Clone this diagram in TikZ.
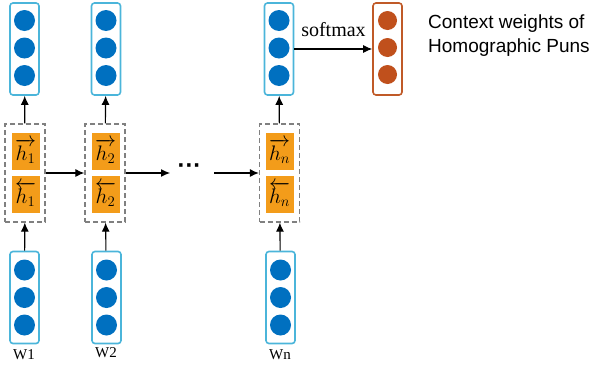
\documentclass[tikz,border=0pt]{standalone}
\usepackage{fontspec}
\usepackage{fix-cm}
\newfontfamily\arialfont{Liberation Sans}
\newfontfamily\timesfont{Liberation Serif}
\usetikzlibrary{arrows.meta}
\definecolor{cellblue}{HTML}{0070C0}
\definecolor{boxcyan}{HTML}{4BB5DA}
\definecolor{hidorange}{HTML}{F39C1A}
\definecolor{outbrown}{HTML}{C0501C}
\definecolor{outedge}{HTML}{C05A28}
\tikzset{
  vecbox/.style={draw=boxcyan, line width=1.6pt, rounded corners=3pt, minimum width=29pt, minimum height=92pt, inner sep=0pt},
  outbox/.style={vecbox, draw=outedge},
  unit/.style={circle, fill=cellblue, minimum size=21pt, inner sep=0pt},
  outunit/.style={circle, fill=outbrown, minimum size=19pt, inner sep=0pt},
  hidbox/.style={draw=gray, dash pattern=on 5pt off 3pt, line width=1.3pt, minimum width=40pt, minimum height=98pt, inner sep=0pt},
  hcell/.style={fill=hidorange, minimum width=28pt, minimum height=37pt, inner sep=0pt, font=\fontsize{21}{21}\selectfont},
  conn/.style={-{Latex[length=9pt,width=8pt]}, line width=1.1pt},
  word/.style={font=\timesfont\fontsize{15}{15}\selectfont}
}
\begin{document}
\begin{tikzpicture}[x=1pt, y=-1pt]
\useasboundingbox (0,0) rectangle (599,367);
% output layer
\node[vecbox] (top1) at (24.5,49){};
\node[vecbox] (top2) at (106,49){};
\node[vecbox] (topn) at (279,49){};
\node[unit] (t1a) at (24.5,20.5){};
\node[unit] (t1b) at (24.5,48){};
\node[unit] (t1c) at (24.5,75.5){};
\node[unit] (t2a) at (106,20.5){};
\node[unit] (t2b) at (106,48){};
\node[unit] (t2c) at (106,75.5){};
\node[unit] (tna) at (279,20.5){};
\node[unit] (tnb) at (279,48){};
\node[unit] (tnc) at (279,75.5){};
\node[outbox] (out) at (387.5,49){};
\node[outunit] (oa) at (387.5,20.5){};
\node[outunit] (ob) at (387.5,47.5){};
\node[outunit] (oc) at (387.5,74.5){};
\node[font=\timesfont\fontsize{20}{20}\selectfont] (soft) at (333.5,30){softmax};
\node[anchor=west, align=left, inner sep=0pt, font=\arialfont\fontsize{19}{24}\selectfont] (ctx) at (428,36){Context weights of\\Homographic Puns};
% hidden states
\node[hidbox] (hid1) at (25,173){};
\node[hidbox] (hid2) at (105,173){};
\node[hidbox] (hidn) at (279.5,173){};
\node[hcell] (fw1) at (25.5,151.5){$\overrightarrow{h_1}$};
\node[hcell] (bw1) at (25.5,194.5){$\overleftarrow{h_1}$};
\node[hcell] (fw2) at (105.5,151.5){$\overrightarrow{h_2}$};
\node[hcell] (bw2) at (105.5,194.5){$\overleftarrow{h_2}$};
\node[hcell] (fwn) at (279.5,151.5){$\overrightarrow{h_n}$};
\node[hcell] (bwn) at (279.5,194.5){$\overleftarrow{h_n}$};
\node[font=\arialfont\bfseries\fontsize{24}{24}\selectfont] (dots) at (189.5,169){···};
\coordinate (gapl) at (170,173);
\coordinate (gapr) at (214,173);
% input layer
\node[vecbox] (in1) at (24.5,297.5){};
\node[vecbox] (in2) at (106.5,297.5){};
\node[vecbox] (inn) at (280.5,297.5){};
\node[unit] (i1a) at (24.5,270){};
\node[unit] (i1b) at (24.5,297.5){};
\node[unit] (i1c) at (24.5,325){};
\node[unit] (i2a) at (106.5,270){};
\node[unit] (i2b) at (106.5,297.5){};
\node[unit] (i2c) at (106.5,325){};
\node[unit] (ina) at (280.5,270){};
\node[unit] (inb) at (280.5,297.5){};
\node[unit] (inc) at (280.5,325){};
\node[word] (w1) at (24,355){W1};
\node[word] (w2) at (106,353){W2};
\node[word] (wn) at (280,355){Wn};
% connectors
\draw[conn] (in1)--(hid1);
\draw[conn] (in2)--(hid2);
\draw[conn] (inn)--(hidn);
\draw[conn] (hid1)--(top1);
\draw[conn] (hid2)--(top2);
\draw[conn] (hidn)--(topn);
\draw[conn] (hid1)--(hid2);
\draw[conn] (hid2.east)--(gapl);
\draw[conn] (gapr)--(hidn.west);
\draw[conn] (topn)--(out);
\end{tikzpicture}
\end{document}
